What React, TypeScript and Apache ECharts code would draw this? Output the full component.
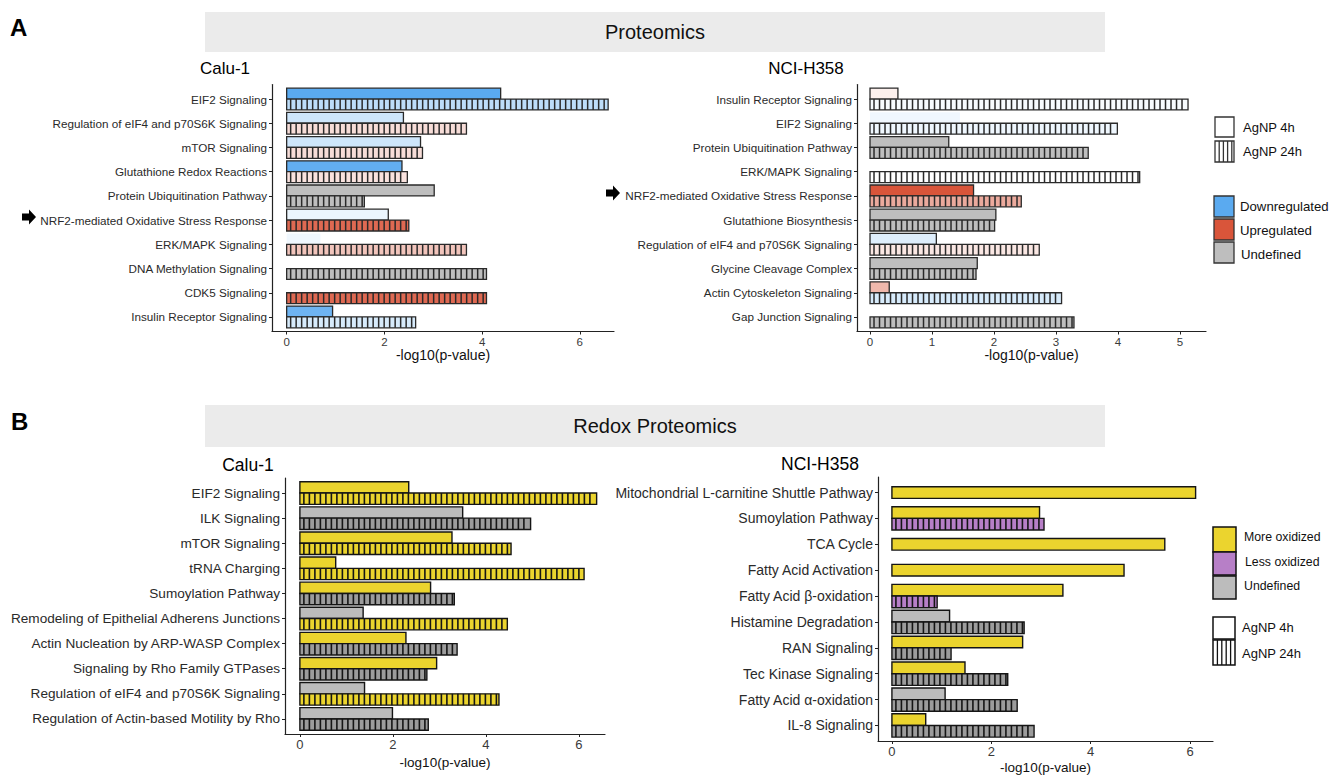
import React, { useEffect, useRef } from "react";
import * as echarts from "echarts";

// ---------- Panel A: Proteomics, Calu-1 ----------
const protCaluCategories = [
  "EIF2 Signaling",
  "Regulation of eIF4 and p70S6K Signaling",
  "mTOR Signaling",
  "Glutathione Redox Reactions",
  "Protein Ubiquitination Pathway",
  "NRF2-mediated Oxidative Stress Response",
  "ERK/MAPK Signaling",
  "DNA Methylation Signaling",
  "CDK5 Signaling",
  "Insulin Receptor Signaling",
];
const protCaluP4h = [4.38, 2.39, 2.74, 2.36, 3.02, 2.08, 0.69, null, null, 0.94];
const protCaluP24h = [6.58, 3.68, 2.78, 2.47, 1.59, 2.5, 3.68, 4.09, 4.09, 2.64];
// regulation score: negative = down (blue), positive = up (red), null = undefined (grey)
const protCaluZ4h = [-1, -0.3, -0.3, -0.95, null, -0.12, -0.1, null, null, -0.88];
const protCaluZ24h = [-0.4, 0.2, 0.2, 0.17, null, 0.88, 0.34, null, 0.88, -0.24];
const protCaluSig4h = [true, true, true, true, true, true, false, true, true, true];

// ---------- Panel A: Proteomics, NCI-H358 ----------
const protH358Categories = [
  "Insulin Receptor Signaling",
  "EIF2 Signaling",
  "Protein Ubiquitination Pathway",
  "ERK/MAPK Signaling",
  "NRF2-mediated Oxidative Stress Response",
  "Glutathione Biosynthesis",
  "Regulation of eIF4 and p70S6K Signaling",
  "Glycine Cleavage Complex",
  "Actin Cytoskeleton Signaling",
  "Gap Junction Signaling",
];
const protH358P4h = [0.45, 1.45, 1.27, null, 1.67, 2.03, 1.07, 1.73, 0.31, null];
const protH358P24h = [5.13, 3.99, 3.52, 4.35, 2.44, 2.01, 2.73, 1.71, 3.09, 3.29];
const protH358Z4h = [0.09, -0.09, null, null, 1, null, -0.2, null, 0.42, null];
const protH358Z24h = [-0.05, -0.1, null, 0, 0.5, null, 0.14, null, -0.24, null];
const protH358Sig4h = [true, false, true, true, true, true, true, true, true, true];

// ---------- Panel B: Redox Proteomics, Calu-1 ----------
const redoxCaluCategories = [
  "EIF2 Signaling",
  "ILK Signaling",
  "mTOR Signaling",
  "tRNA Charging",
  "Sumoylation Pathway",
  "Remodeling of Epithelial Adherens Junctions",
  "Actin Nucleation by ARP-WASP Complex",
  "Signaling by Rho Family GTPases",
  "Regulation of eIF4 and p70S6K Signaling",
  "Regulation of Actin-based Motility by Rho",
];
const redoxCaluP4h = [2.34, 3.5, 3.27, 0.77, 2.81, 1.36, 2.28, 2.94, 1.39, 1.99];
const redoxCaluP24h = [6.38, 4.96, 4.54, 6.11, 3.32, 4.46, 3.38, 2.73, 4.28, 2.76];
const redoxCaluState4h = ["more", "undef", "more", "more", "more", "undef", "more", "more", "undef", "undef"];
const redoxCaluState24h = ["more", "undef", "more", "more", "undef", "more", "undef", "undef", "more", "undef"];

// ---------- Panel B: Redox Proteomics, NCI-H358 ----------
const redoxH358Categories = [
  "Mitochondrial L-carnitine Shuttle Pathway",
  "Sumoylation Pathway",
  "TCA Cycle",
  "Fatty Acid Activation",
  "Fatty Acid β-oxidation",
  "Histamine Degradation",
  "RAN Signaling",
  "Tec Kinase Signaling",
  "Fatty Acid α-oxidation",
  "IL-8 Signaling",
];
const redoxH358P4h = [6.11, 2.97, 5.49, 4.67, 3.44, 1.16, 2.63, 1.47, 1.07, 0.68];
const redoxH358P24h = [null, 3.06, null, null, 0.91, 2.66, 1.19, 2.33, 2.52, 2.86];
const redoxH358State4h = ["more", "more", "more", "more", "more", "undef", "more", "more", "undef", "more"];
const redoxH358State24h = [null, "less", null, null, "less", "undef", "undef", "undef", "undef", "undef"];

const xTicksProtCalu = [0, 2, 4, 6];
const xTicksProtH358 = [0, 1, 2, 3, 4, 5];
const xTicksRedox = [0, 2, 4, 6];
const rowTicks = [0, 1, 2, 3, 4, 5, 6, 7, 8, 9];

// ---------- styling ----------
const FONT = "'Liberation Sans', Arial, Helvetica, sans-serif";
const BLUE = [90, 170, 240];
const RED = [217, 85, 58];
const GREY = "#bebebe";
const YELLOW = "#ebd42e";
const PURPLE = "#b77fc7";
const REDOX_GREY_4H = "#bcbcbc";
const REDOX_GREY_24H = "#9c9c9c";

function zColor(z: number | null): string {
  if (z === null || z === undefined) return GREY;
  const t = Math.min(1, Math.abs(z));
  const c = z < 0 ? BLUE : RED;
  const r = Math.round(255 + (c[0] - 255) * t);
  const g = Math.round(255 + (c[1] - 255) * t);
  const b = Math.round(255 + (c[2] - 255) * t);
  return `rgb(${r},${g},${b})`;
}

function stateColor(s: string | null, hatched: boolean): string {
  if (s === "more") return YELLOW;
  if (s === "less") return PURPLE;
  return hatched ? REDOX_GREY_24H : REDOX_GREY_4H;
}

type Item = {
  v: number;
  cat: number;
  slot: number; // -1 top (4h), 1 bottom (24h), 0 centred
  fill: string;
  hatch: boolean;
  stroke: string | null;
  lw: number;
};

function protItems(p4: (number | null)[], p24: (number | null)[], z4: (number | null)[], z24: (number | null)[], sig4: boolean[]): Item[] {
  const out: Item[] = [];
  p4.forEach((v, i) => {
    if (v !== null) out.push({ v, cat: i, slot: -1, fill: zColor(z4[i]), hatch: false, stroke: sig4[i] ? "#2a2a2a" : null, lw: 1.3 });
  });
  p24.forEach((v, i) => {
    if (v !== null) out.push({ v, cat: i, slot: 1, fill: zColor(z24[i]), hatch: true, stroke: "#2a2a2a", lw: 1.3 });
  });
  return out;
}

function redoxItems(p4: (number | null)[], p24: (number | null)[], s4: (string | null)[], s24: (string | null)[]): Item[] {
  const out: Item[] = [];
  p4.forEach((v, i) => {
    if (v !== null) {
      const single = p24[i] === null;
      out.push({ v, cat: i, slot: single ? 0 : -1, fill: stateColor(s4[i], false), hatch: false, stroke: "#151515", lw: 1.4 });
    }
  });
  p24.forEach((v, i) => {
    if (v !== null) {
      const single = p4[i] === null;
      out.push({ v, cat: i, slot: single ? 0 : 1, fill: stateColor(s24[i], true), hatch: true, stroke: "#151515", lw: 1.4 });
    }
  });
  return out;
}

function makeRenderItem(items: Item[], hatchColor: string, hatchWidth: number) {
  return (params: any, api: any) => {
    const it = items[params.dataIndex];
    const unit = Math.abs(api.size([0, 1])[1]);
    const h = 0.45 * unit;
    const p0 = api.coord([0, it.cat]);
    const p1 = api.coord([it.v, it.cat]);
    const yc = p0[1];
    const y0 = it.slot === 0 ? yc - h / 2 : it.slot < 0 ? yc - h : yc;
    const x0 = p0[0];
    const w = p1[0] - p0[0];
    const children: any[] = [
      { type: "rect", shape: { x: x0, y: y0, width: w, height: h }, style: { fill: it.fill, stroke: "none" } },
    ];
    if (it.hatch) {
      for (let x = x0 + 4; x < x0 + w - 1.5; x += 5.5) {
        children.push({
          type: "line",
          shape: { x1: x, y1: y0, x2: x, y2: y0 + h },
          style: { stroke: hatchColor, lineWidth: hatchWidth },
        });
      }
    }
    if (it.stroke) {
      children.push({
        type: "rect",
        shape: { x: x0, y: y0, width: w, height: h },
        style: { fill: "none", stroke: it.stroke, lineWidth: it.lw },
      });
    }
    return { type: "group", children };
  };
}

function hatchRect(x: number, y: number, w: number, h: number, step: number, stroke: string, lw: number) {
  const children: any[] = [
    { type: "rect", shape: { x, y, width: w, height: h }, style: { fill: "#fff", stroke: "none" } },
  ];
  for (let xx = x + step; xx < x + w - 1; xx += step) {
    children.push({ type: "line", shape: { x1: xx, y1: y, x2: xx, y2: y + h }, style: { stroke, lineWidth: 1.3 } });
  }
  children.push({ type: "rect", shape: { x, y, width: w, height: h }, style: { fill: "none", stroke, lineWidth: lw } });
  return { type: "group", children };
}

function arrow(x: number, yc: number) {
  return {
    type: "polygon",
    shape: {
      points: [
        [x, yc - 3.5],
        [x + 7, yc - 3.5],
        [x + 7, yc - 7.5],
        [x + 14, yc],
        [x + 7, yc + 7.5],
        [x + 7, yc + 3.5],
        [x, yc + 3.5],
      ],
    },
    style: { fill: "#000" },
  };
}

function txt(text: string, x: number, y: number, size: number, opts: any = {}) {
  return {
    type: "text",
    x,
    y,
    style: {
      text,
      font: `${opts.bold ? "bold " : ""}${size}px ${FONT}`,
      fill: opts.fill || "#111",
      textAlign: opts.align || "left",
      textVerticalAlign: "middle",
    },
  };
}

export default function App() {
  const ref = useRef<HTMLDivElement>(null);

  useEffect(() => {
    if (!ref.current) return;
    const chart = echarts.init(ref.current, null, { renderer: "svg" });

    const panels = [
      {
        grid: { left: 272, top: 84.5, width: 342, height: 247 },
        min: -0.3, max: 6.7, ticks: xTicksProtCalu, cats: protCaluCategories,
        items: protItems(protCaluP4h, protCaluP24h, protCaluZ4h, protCaluZ24h, protCaluSig4h),
        labelSize: 11.7, tickSize: 11.5, nameSize: 14, nameGap: 14, hatch: "#2a2a2a", hatchW: 1.5,
      },
      {
        grid: { left: 857, top: 84.5, width: 349, height: 247 },
        min: -0.21, max: 5.42, ticks: xTicksProtH358, cats: protH358Categories,
        items: protItems(protH358P4h, protH358P24h, protH358Z4h, protH358Z24h, protH358Sig4h),
        labelSize: 11.7, tickSize: 11.5, nameSize: 14, nameGap: 14, hatch: "#2a2a2a", hatchW: 1.5,
      },
      {
        grid: { left: 285, top: 478, width: 320, height: 256 },
        min: -0.32, max: 6.56, ticks: xTicksRedox, cats: redoxCaluCategories,
        items: redoxItems(redoxCaluP4h, redoxCaluP24h, redoxCaluState4h, redoxCaluState24h),
        labelSize: 13.6, tickSize: 13, nameSize: 13.5, nameGap: 21, hatch: "#151515", hatchW: 1.6,
      },
      {
        grid: { left: 878, top: 477, width: 335, height: 266 },
        min: -0.28, max: 6.46, ticks: xTicksRedox, cats: redoxH358Categories,
        items: redoxItems(redoxH358P4h, redoxH358P24h, redoxH358State4h, redoxH358State24h),
        labelSize: 14, tickSize: 13, nameSize: 13.5, nameGap: 19, hatch: "#151515", hatchW: 1.6,
      },
    ];

    const grid = panels.map((p) => ({ ...p.grid, containLabel: false }));
    const xAxis = panels.map((p, i) => ({
      gridIndex: i,
      type: "value",
      min: p.min,
      max: p.max,
      axisLine: { show: true, onZero: false, lineStyle: { color: "#222", width: 1.2 } },
      axisTick: { show: true, length: 3, customValues: p.ticks, lineStyle: { color: "#222" } },
      axisLabel: { customValues: p.ticks, fontSize: p.tickSize, color: "#3a3a3a", margin: 4, fontFamily: FONT },
      splitLine: { show: false },
      name: "-log10(p-value)",
      nameLocation: "middle",
      nameGap: p.nameGap,
      nameTextStyle: { fontSize: p.nameSize, color: "#111", fontFamily: FONT },
    }));
    const yAxis = panels.map((p, i) => ({
      gridIndex: i,
      type: "value",
      inverse: true,
      min: -0.6,
      max: 9.6,
      axisLine: { show: true, onZero: false, lineStyle: { color: "#222", width: 1.2 } },
      axisTick: { show: true, length: 3, customValues: rowTicks, lineStyle: { color: "#222" } },
      axisLabel: {
        customValues: rowTicks,
        formatter: (v: number) => p.cats[Math.round(v)] || "",
        fontSize: p.labelSize,
        color: "#2a2a2a",
        margin: 5,
        fontFamily: FONT,
      },
      splitLine: { show: false },
    }));
    const series = panels.map((p, i) => ({
      type: "custom",
      xAxisIndex: i,
      yAxisIndex: i,
      renderItem: makeRenderItem(p.items, p.hatch, p.hatchW),
      encode: { x: 0, y: 1 },
      data: p.items.map((it) => [it.v, it.cat, it.slot]),
      clip: false,
    }));

    const graphic: any[] = [
      // headers
      { type: "rect", shape: { x: 205, y: 12, width: 900, height: 40 }, style: { fill: "#ebebeb" } },
      txt("Proteomics", 655, 32, 20, { align: "center" }),
      { type: "rect", shape: { x: 205, y: 405, width: 900, height: 42 }, style: { fill: "#ebebeb" } },
      txt("Redox Proteomics", 655, 426, 20, { align: "center" }),
      // panel letters
      txt("A", 10, 27, 24, { bold: true, fill: "#000" }),
      txt("B", 11, 421, 24, { bold: true, fill: "#000" }),
      // subplot titles
      txt("Calu-1", 225, 68, 17, { align: "center", fill: "#000" }),
      txt("NCI-H358", 806, 68, 17, { align: "center", fill: "#000" }),
      txt("Calu-1", 248, 465, 17.5, { align: "center", fill: "#000" }),
      txt("NCI-H358", 820, 464, 17.5, { align: "center", fill: "#000" }),
      // arrows
      arrow(22, 217),
      arrow(606, 193),
      // proteomics legend
      { type: "rect", shape: { x: 1215, y: 117, width: 19, height: 20 }, style: { fill: "#fff", stroke: "#333", lineWidth: 1.3 } },
      hatchRect(1215, 141, 19, 21, 4.2, "#333", 1.3),
      txt("AgNP 4h", 1243, 127, 13),
      txt("AgNP 24h", 1243, 151, 13),
      { type: "rect", shape: { x: 1214, y: 196, width: 20, height: 21 }, style: { fill: zColor(-1), stroke: "#333", lineWidth: 1.3 } },
      { type: "rect", shape: { x: 1214, y: 219, width: 20, height: 21 }, style: { fill: zColor(1), stroke: "#333", lineWidth: 1.3 } },
      { type: "rect", shape: { x: 1214, y: 242, width: 20, height: 21 }, style: { fill: GREY, stroke: "#333", lineWidth: 1.3 } },
      txt("Downregulated", 1240, 206, 13.2),
      txt("Upregulated", 1240, 230, 13.2),
      txt("Undefined", 1241, 254, 13.2),
      // redox legend
      { type: "rect", shape: { x: 1213, y: 527, width: 23, height: 25 }, style: { fill: YELLOW, stroke: "#111", lineWidth: 1.5 } },
      { type: "rect", shape: { x: 1213, y: 552, width: 23, height: 23 }, style: { fill: PURPLE, stroke: "#111", lineWidth: 1.5 } },
      { type: "rect", shape: { x: 1213, y: 576, width: 23, height: 23 }, style: { fill: REDOX_GREY_4H, stroke: "#111", lineWidth: 1.5 } },
      txt("More oxidized", 1244, 537, 12.3),
      txt("Less oxidized", 1245, 562, 12.3),
      txt("Undefined", 1244, 586, 12.3),
      { type: "rect", shape: { x: 1213, y: 617, width: 22, height: 22 }, style: { fill: "#fff", stroke: "#111", lineWidth: 1.5 } },
      hatchRect(1213, 640, 22, 25, 4.4, "#111", 1.5),
      txt("AgNP 4h", 1242, 627, 13),
      txt("AgNP 24h", 1242, 653, 13),
    ];

    chart.setOption({
      animation: false,
      backgroundColor: "#fff",
      textStyle: { fontFamily: FONT },
      grid,
      xAxis,
      yAxis,
      series,
      graphic,
    } as any);

    return () => chart.dispose();
  }, []);

  return (
    <div
      ref={ref}
      style={{ position: "fixed", left: 0, top: 0, width: 1329, height: 775, background: "#fff" }}
    />
  );
}
